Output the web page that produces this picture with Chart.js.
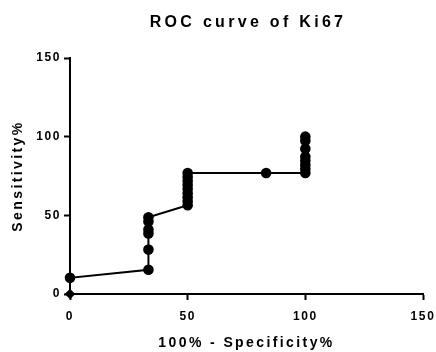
<!DOCTYPE html>
<html>
<head>
<meta charset="utf-8">
<script src="https://cdn.jsdelivr.net/npm/chart.js@4"></script>
<style>
  html, body { margin: 0; padding: 0; background: #fff; }
  #wrap { width: 436px; height: 352px; }
</style>
</head>
<body>
<div id="wrap"><canvas id="rocChart" width="436" height="352"></canvas></div>
<script>
// 100% - Specificity% (6 negatives -> steps of 16.67)
const fpr = [0, 0,
  33.33, 33.33, 33.33, 33.33, 33.33, 33.33,
  50, 50, 50, 50, 50, 50, 50, 50, 50,
  83.33,
  100, 100, 100, 100, 100, 100, 100, 100];
// Sensitivity% (39 positives -> steps of 2.56)
const sens = [0, 10.26,
  15.38, 28.21, 38.46, 41.03, 46.15, 48.72,
  56.41, 58.97, 61.54, 64.10, 66.67, 69.23, 71.79, 74.36, 76.92,
  76.92,
  76.92, 79.49, 82.05, 84.62, 87.18, 92.31, 97.44, 100];
const axisTicks = [0, 50, 100, 150];
const chartTitle = "ROC curve of Ki67";
const xTitle = "100% - Specificity%";
const yTitle = "Sensitivity%";

const FONT = "'Liberation Sans', Arial, sans-serif";

// letter spacing like the original export
const spacingPlugin = {
  id: "spacing",
  beforeUpdate(chart) { chart.ctx.letterSpacing = "1.6px"; },
  beforeDraw(chart) { chart.ctx.letterSpacing = "1.6px"; },
  beforeDatasetsDraw(chart) { chart.ctx.letterSpacing = "0px"; },
  afterDraw(chart) {
    const ctx = chart.ctx;
    const area = chart.chartArea;
    ctx.save();
    ctx.letterSpacing = "3.3px";
    ctx.font = "bold 16px " + FONT;
    ctx.fillStyle = "#000";
    ctx.textAlign = "center";
    ctx.textBaseline = "middle";
    ctx.fillText(chartTitle, (area.left + area.right) / 2 + 1.5, 23);
    ctx.restore();
  }
};

// axis titles get a wider spacing than tick labels
const titleSpacing = {
  id: "titleSpacing",
  beforeDraw(chart) {
    ["x", "y"].forEach((id) => {
      const s = chart.scales[id];
      if (s._spacingWrapped) return;
      const orig = s.drawTitle.bind(s);
      s.drawTitle = function () {
        const c = this.ctx;
        const prev = c.letterSpacing;
        c.letterSpacing = "2.4px";
        orig();
        c.letterSpacing = prev;
      };
      s._spacingWrapped = true;
    });
  }
};

document.addEventListener("DOMContentLoaded", function () {
  const points = fpr.map((x, i) => ({ x: x, y: sens[i] }));
  const styles = points.map((p, i) => (i === 0 ? "rectRot" : "circle"));

  const ctx = document.getElementById("rocChart").getContext("2d");
  new Chart(ctx, {
    type: "scatter",
    data: {
      datasets: [
        {
          data: points,
          showLine: true,
          borderColor: "#000",
          backgroundColor: "#000",
          borderWidth: 2,
          pointStyle: styles,
          pointRadius: 5.3,
          pointHoverRadius: 5.3,
          pointBorderWidth: 0,
          tension: 0,
          clip: false,
        },
      ],
    },
    options: {
      responsive: false,
      animation: false,
      devicePixelRatio: 1,
      layout: { padding: { top: 58, right: 13, left: 0, bottom: 0 } },
      plugins: {
        legend: { display: false },
        tooltip: { enabled: false },
        title: { display: false },
      },
      scales: {
        x: {
          type: "linear",
          min: 0,
          max: 150,
          afterBuildTicks: (s) => { s.ticks = axisTicks.map((v) => ({ value: v })); },
          afterFit: (s) => { s.height = 58; s.paddingRight = 0; s.paddingLeft = 0; },
          grid: { drawOnChartArea: false, drawTicks: true, tickLength: 6, tickWidth: 2, tickColor: "#000" },
          border: { display: true, color: "#000", width: 2 },
          ticks: { color: "#000", padding: 9, font: { family: FONT, size: 12, weight: "bold" } },
          title: {
            display: true,
            text: xTitle,
            color: "#000",
            padding: { top: 0, bottom: 0 },
            font: { family: FONT, size: 14, weight: "bold" },
          },
        },
        y: {
          type: "linear",
          min: 0,
          max: 150,
          afterBuildTicks: (s) => { s.ticks = axisTicks.map((v) => ({ value: v })); },
          afterFit: (s) => { s.width = 70; s.paddingTop = 0; s.paddingBottom = 0; },
          grid: { drawOnChartArea: false, drawTicks: true, tickLength: 6, tickWidth: 2, tickColor: "#000" },
          border: { display: true, color: "#000", width: 2 },
          ticks: { color: "#000", padding: 3, font: { family: FONT, size: 12, weight: "bold" } },
          title: {
            display: true,
            text: yTitle,
            color: "#000",
            padding: { top: 10, bottom: 0 },
            font: { family: FONT, size: 14, weight: "bold" },
          },
        },
      },
    },
    plugins: [spacingPlugin, titleSpacing],
  });
});
</script>
</body>
</html>
